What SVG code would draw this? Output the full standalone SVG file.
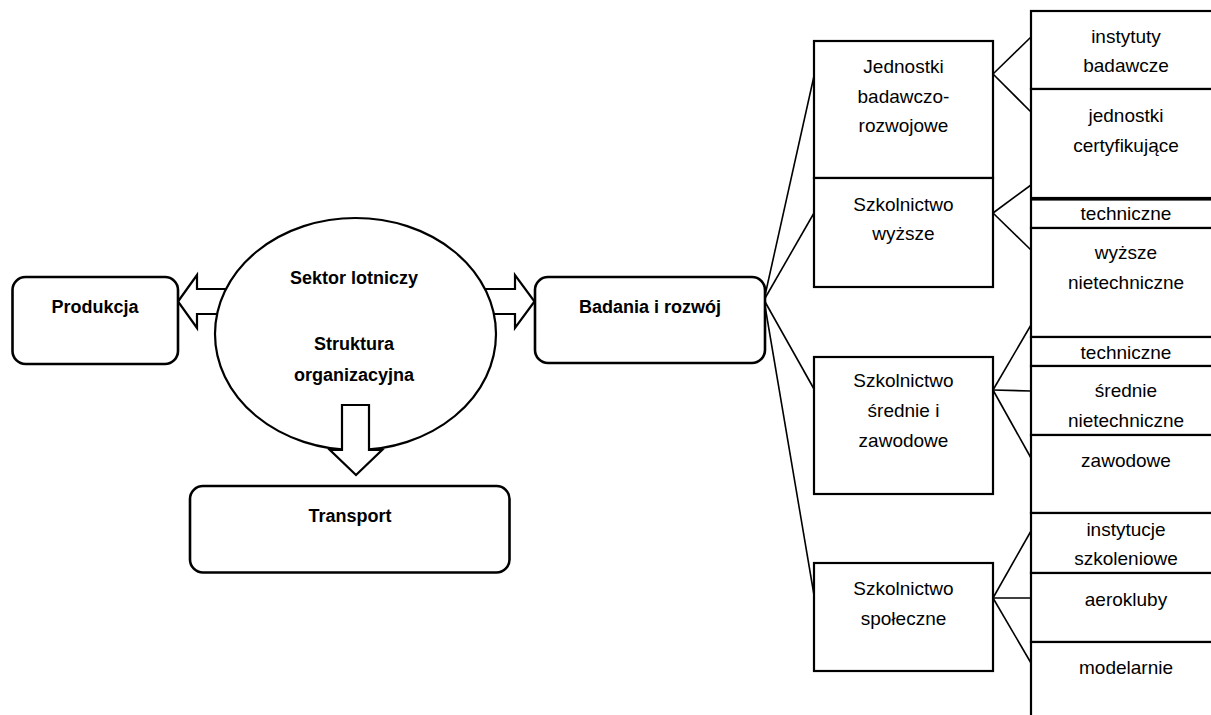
<svg xmlns="http://www.w3.org/2000/svg" width="1211" height="715" viewBox="0 0 1211 715">
<style>
.bg{fill:#fff}
.box{fill:#fff;stroke:#000;stroke-width:2.2}
.rbox{fill:#fff;stroke:#000;stroke-width:2.6}
.arrow{fill:#fff;stroke:#000;stroke-width:2.2;stroke-linejoin:miter}
.conn{stroke:#000;stroke-width:1.6;fill:none}
.tb{font-family:"Liberation Sans",Arial,sans-serif;font-weight:bold;font-size:18px;text-anchor:middle;fill:#000}
.t{font-family:"Liberation Sans",Arial,sans-serif;font-size:19px;text-anchor:middle;fill:#000}
</style>
<rect class="bg" x="0" y="0" width="1211" height="715"/>

<g id="connectors">
  <line class="conn" x1="764" y1="300" x2="814" y2="76"/>
  <line class="conn" x1="764" y1="300" x2="814" y2="213"/>
  <line class="conn" x1="764" y1="300" x2="814" y2="389"/>
  <line class="conn" x1="764" y1="300" x2="814" y2="595"/>
  <line class="conn" x1="993" y1="74" x2="1031" y2="37"/>
  <line class="conn" x1="993" y1="74" x2="1031" y2="112"/>
  <line class="conn" x1="993" y1="213" x2="1031" y2="185"/>
  <line class="conn" x1="993" y1="213" x2="1031" y2="250"/>
  <line class="conn" x1="993" y1="390" x2="1031" y2="325"/>
  <line class="conn" x1="993" y1="390" x2="1031" y2="391"/>
  <line class="conn" x1="993" y1="390" x2="1031" y2="458"/>
  <line class="conn" x1="993" y1="598" x2="1031" y2="531"/>
  <line class="conn" x1="993" y1="598" x2="1031" y2="598"/>
  <line class="conn" x1="993" y1="598" x2="1031" y2="663"/>
</g>

<g id="arrow-left"><polygon class="arrow" points="178,301.5 197,275 197,289 230,289 230,314 197,314 197,328"/></g>
<g id="arrow-right"><polygon class="arrow" points="480,289 515,289 515,275 534.5,301.5 515,328 515,314 480,314"/></g>

<g id="sektor">
  <ellipse class="box" cx="355.5" cy="334" rx="140.5" ry="116"/>
  <text class="tb" x="354" y="284">Sektor lotniczy</text>
  <text class="tb" x="354" y="350">Struktura</text>
  <text class="tb" x="354" y="381">organizacyjna</text>
</g>

<g id="arrow-down"><polygon class="arrow" points="342,405 369,405 369,450 382,450 356,475 330,450 342,450"/></g>

<g id="produkcja">
  <rect class="rbox" x="12.5" y="277" width="165.5" height="87" rx="13"/>
  <text class="tb" x="95" y="313">Produkcja</text>
</g>
<g id="badania">
  <rect class="rbox" x="535" y="277" width="230" height="86" rx="13"/>
  <text class="tb" x="650" y="313">Badania i rozwój</text>
</g>
<g id="transport">
  <rect class="rbox" x="190" y="486" width="319.5" height="86.5" rx="13"/>
  <text class="tb" x="350" y="522">Transport</text>
</g>

<g id="jednostki">
  <rect class="box" x="814" y="41" width="179" height="137"/>
  <text class="t" x="903.5" y="73">Jednostki</text>
  <text class="t" x="903.5" y="102.5">badawczo-</text>
  <text class="t" x="903.5" y="132">rozwojowe</text>
</g>
<g id="szk-wyzsze">
  <rect class="box" x="814" y="178" width="179" height="109"/>
  <text class="t" x="903.5" y="210.5">Szkolnictwo</text>
  <text class="t" x="903.5" y="240">wyższe</text>
</g>
<g id="szk-srednie">
  <rect class="box" x="814" y="357" width="179" height="137"/>
  <text class="t" x="903.5" y="387">Szkolnictwo</text>
  <text class="t" x="903.5" y="417">średnie i</text>
  <text class="t" x="903.5" y="447">zawodowe</text>
</g>
<g id="szk-spoleczne">
  <rect class="box" x="814" y="563" width="179" height="108"/>
  <text class="t" x="903.5" y="595">Szkolnictwo</text>
  <text class="t" x="903.5" y="624.5">społeczne</text>
</g>

<g id="instytuty">
  <rect class="box" x="1031" y="11" width="200" height="78"/>
  <text class="t" x="1126" y="42.5">instytuty</text>
  <text class="t" x="1126" y="71.5">badawcze</text>
</g>
<g id="certyfikujace">
  <rect class="box" x="1031" y="89" width="200" height="109"/>
  <text class="t" x="1126" y="121.5">jednostki</text>
  <text class="t" x="1126" y="151.5">certyfikujące</text>
</g>
<g id="techniczne-w">
  <rect class="box" x="1031" y="199.5" width="200" height="28.5"/>
  <text class="t" x="1126" y="220">techniczne</text>
</g>
<g id="nietechniczne-w">
  <rect class="box" x="1031" y="228" width="200" height="109"/>
  <text class="t" x="1126" y="258.5">wyższe</text>
  <text class="t" x="1126" y="288.5">nietechniczne</text>
</g>
<g id="techniczne-s">
  <rect class="box" x="1031" y="337" width="200" height="29"/>
  <text class="t" x="1126" y="358.5">techniczne</text>
</g>
<g id="nietechniczne-s">
  <rect class="box" x="1031" y="366" width="200" height="69"/>
  <text class="t" x="1126" y="397">średnie</text>
  <text class="t" x="1126" y="427">nietechniczne</text>
</g>
<g id="zawodowe">
  <rect class="box" x="1031" y="435" width="200" height="78"/>
  <text class="t" x="1126" y="467">zawodowe</text>
</g>
<g id="instytucje">
  <rect class="box" x="1031" y="513" width="200" height="60"/>
  <text class="t" x="1126" y="536">instytucje</text>
  <text class="t" x="1126" y="564.5">szkoleniowe</text>
</g>
<g id="aerokluby">
  <rect class="box" x="1031" y="573" width="200" height="69"/>
  <text class="t" x="1126" y="606">aerokluby</text>
</g>
<g id="modelarnie">
  <rect class="box" x="1031" y="642" width="200" height="90"/>
  <text class="t" x="1126" y="673.5">modelarnie</text>
</g>
</svg>
